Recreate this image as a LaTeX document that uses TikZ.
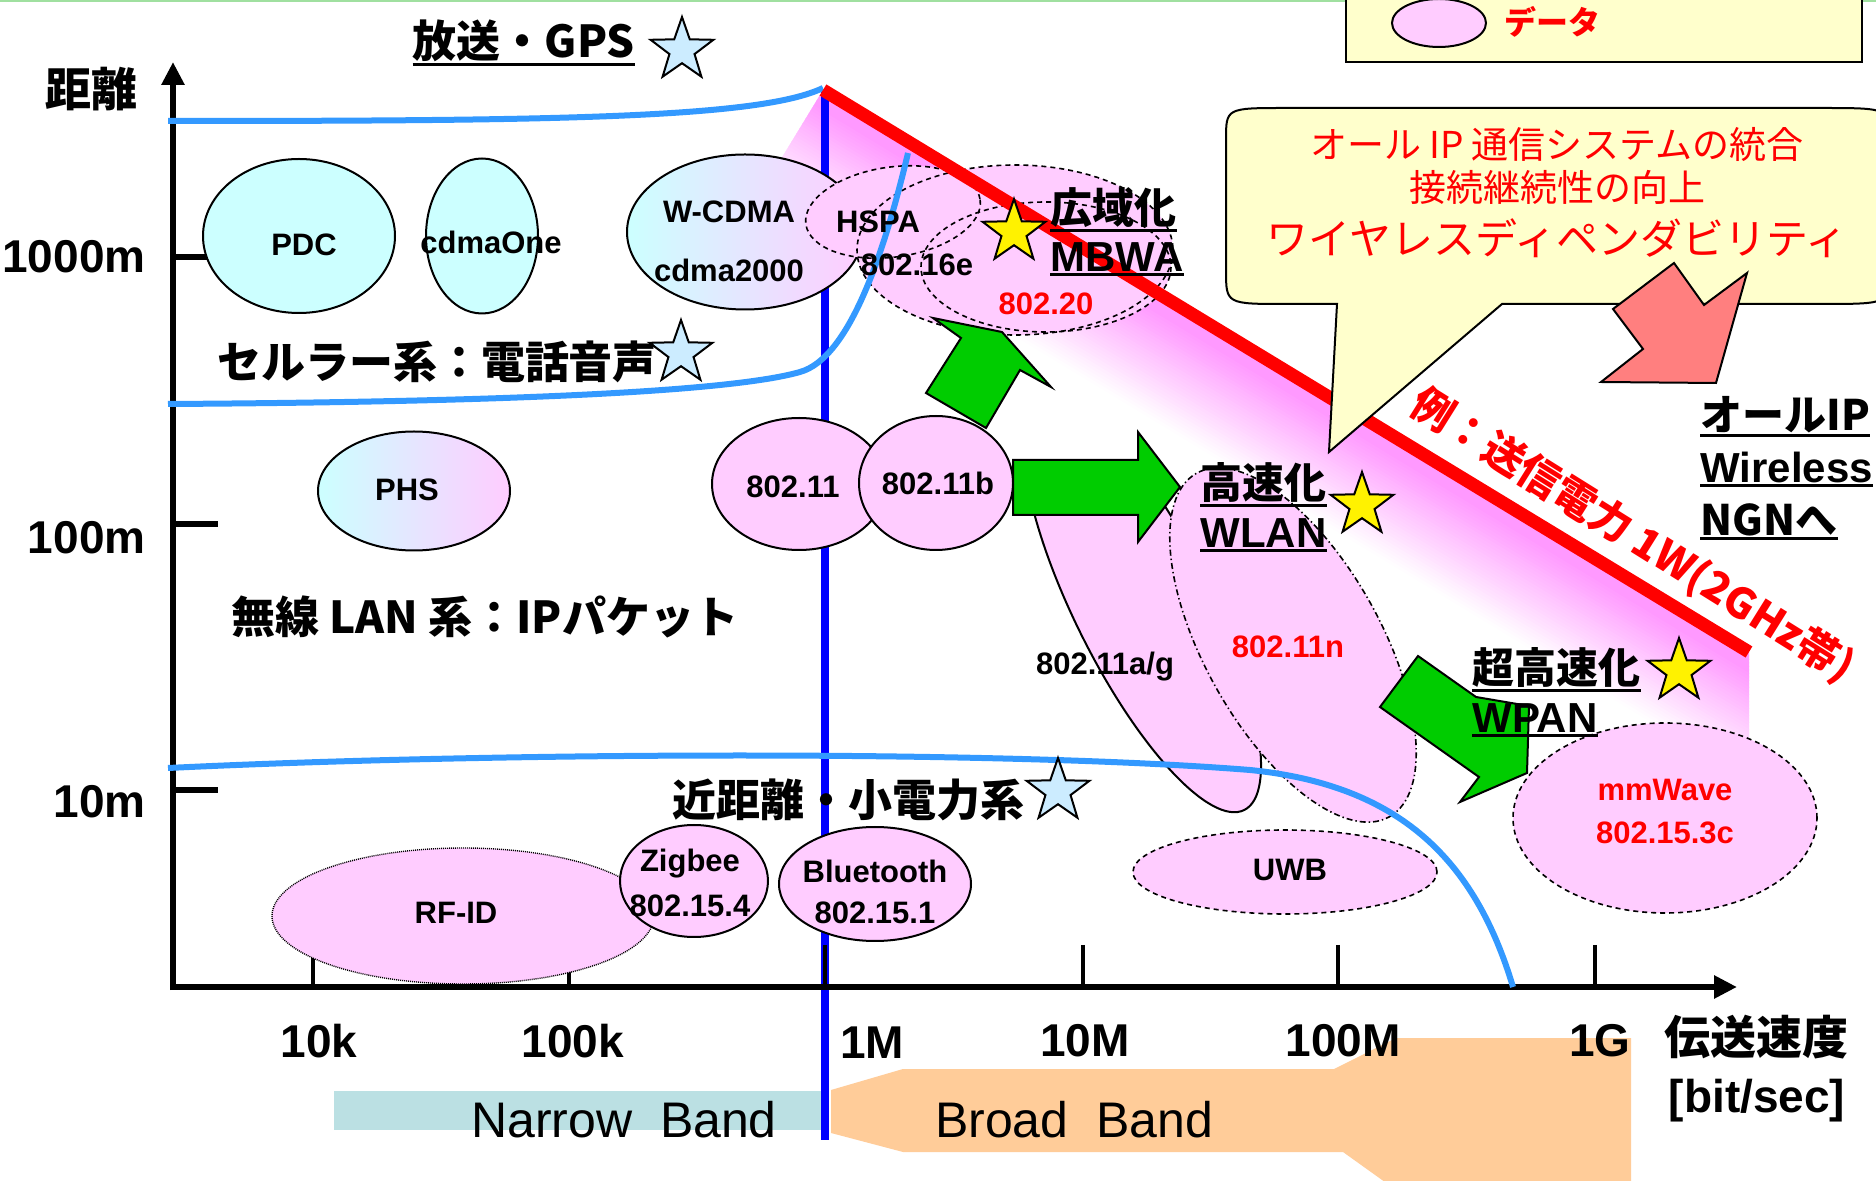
\documentclass[tikz,border=0pt]{standalone}
\usepackage{fontspec}
\setmainfont{Liberation Sans}
\newfontfamily\jp{Noto Sans CJK JP}
\usetikzlibrary{shapes.geometric,arrows.meta}
\definecolor{cyanlt}{HTML}{CCFFFF}
\definecolor{pinklt}{HTML}{FFCCFF}
\definecolor{magpk}{HTML}{FF99FF}
\definecolor{curveblue}{HTML}{3399FF}
\definecolor{linblue}{HTML}{0000FF}
\definecolor{arrgreen}{HTML}{00CC00}
\definecolor{salmon}{HTML}{FF7F7F}
\definecolor{callyel}{HTML}{FFFFCC}
\definecolor{narrowc}{HTML}{BBE0E3}
\definecolor{broadc}{HTML}{FFCC99}
\definecolor{starblue}{HTML}{CCECFF}
\definecolor{topgreen}{HTML}{A0E0A0}
\begin{document}
\begin{tikzpicture}[x=0.5pt,y=-0.5pt,
  ell/.style={ellipse, draw=black, line width=1pt, inner sep=0pt, fill=pinklt},
  dsh/.style={dash pattern=on 2.5pt off 2pt, line width=0.8pt},
  ddot/.style={dash pattern=on 3pt off 1.5pt on 0.7pt off 1.5pt, line width=0.8pt},
  rfdots/.style={dash pattern=on 0.5pt off 0.5pt, line width=0.7pt},
  lab/.style={font=\bfseries\fontsize{15.5}{18}\selectfont, inner sep=0pt},
  axl/.style={font=\bfseries\fontsize{23}{27}\selectfont, inner sep=0pt},
  jpax/.style={font=\jp\bfseries\fontsize{23}{27}\selectfont, inner sep=0pt},
  jpbig/.style={font=\jp\bfseries\fontsize{22}{26}\selectfont, inner xsep=0pt, inner ysep=1pt},
  jpmid/.style={font=\jp\bfseries\fontsize{21}{25}\selectfont, inner xsep=0pt, inner ysep=1pt},
  enmid/.style={font=\bfseries\fontsize{21}{25}\selectfont, inner xsep=0pt, inner ysep=1.5pt},
  uline/.style={line width=1.5pt},
  starshape/.style={star, star points=5, star point ratio=2.5, draw=black, line width=1pt, inner sep=0pt, minimum size=33pt},
  garrow/.style={fill=arrgreen, draw=black, line width=1pt, line join=miter},
  calltxt/.style={font=\jp\fontsize{18.5}{21}\selectfont, text=red, inner sep=0pt},
  bandtxt/.style={font=\fontsize{25}{30}\selectfont, inner sep=0pt},
  bluecurve/.style={curveblue, line width=3pt},
  axisline/.style={line width=3pt, -{Triangle[length=11.5pt,width=11pt]}},
]
\path[use as bounding box] (0,0) rectangle (1876,1181);
\clip (0,0) rectangle (1876,1181);
\fill[white] (0,0) rectangle (1876,1181);
\draw[topgreen, line width=1.5pt] (0,1) -- (1876,1);

% bands
\fill[narrowc] (334,1091) rectangle (827,1130);
\fill[broadc] (831,1090) -- (903,1069) -- (1334,1069) -- (1396,1038) -- (1631,1038) -- (1631,1200) -- (1410,1200) -- (1343,1152) -- (903,1152) -- (831,1133) -- cycle;
\node[bandtxt] (narrowt) at (624,1120) {Narrow~~Band};
\node[bandtxt] (broadt) at (1074,1120) {Broad~~Band};

% magenta fade under the power line
\begin{scope}
\clip (823,90) -- (1749,652) -- (1749,745) -- (1400,800) -- (667,346) -- cycle;
\begin{scope}[shift={(823,90)}, rotate=-31.25]
\foreach \t in {0,3,...,120} {
  \pgfmathtruncatemacro{\p}{max(0,min(100,100-(\t-15)*100/95))}
  \fill[magpk!\p!white] (-60,\t) rectangle (1200,\t+3.6);
}
\end{scope}
\end{scope}

% blue vertical divider
\draw[linblue, line width=4pt] (825,90) -- (825,1140);

% axes
\draw[axisline] (173,990) -- (173,62);
\draw[axisline] (170,987) -- (1737,987);
\foreach \yy in {257,524,790} \draw[line width=3pt] (173,\yy) -- (218,\yy);
\foreach \xx in {313,569,825,1083,1338,1595} \draw[line width=2pt] (\xx,945) -- (\xx,987);

% cellular ellipses
\node[ell, fill=cyanlt, minimum width=96pt, minimum height=77pt] (pdc) at (299,236) {};
\node[ell, fill=cyanlt, minimum width=56pt, minimum height=77.5pt] (cdmaone) at (482,236) {};
\node[ell, left color=cyanlt, right color=pinklt, minimum width=118pt, minimum height=77.5pt] (wcdma) at (745,232) {};
\node[ell, left color=cyanlt, right color=pinklt, minimum width=96pt, minimum height=59.5pt] (phs) at (414,491) {};

% HSPA / 802.16e / 802.20 (dashed)
\fill[pinklt, rotate around={8:(893,212)}] (893,212) ellipse [x radius=88, y radius=45];
\fill[pinklt] (1015,250) ellipse [x radius=158, y radius=85];
\fill[pinklt] (1046,267) ellipse [x radius=125, y radius=65];
\draw[dsh, rotate around={8:(893,212)}] (893,212) ellipse [x radius=88, y radius=45];
\draw[dsh] (1015,250) ellipse [x radius=158, y radius=85];
\draw[dsh] (1046,267) ellipse [x radius=125, y radius=65];

% WLAN
\node[ell, minimum width=87pt, minimum height=66pt] (w11) at (799,484) {};
\node[ell, minimum width=77pt, minimum height=67pt] (w11b) at (936,483) {};
\begin{scope}
\clip (900,462) rectangle (1500,1000);
\node[ell, rotate=-63.6, minimum width=230pt, minimum height=68pt] (w11ag) at (1142,604) {};
\end{scope}
\node[ell, ddot, rotate=-60.7, minimum width=197pt, minimum height=88pt] (w11n) at (1293,645) {};

% short range
\node[ell, dsh, minimum width=152pt, minimum height=42pt] (uwb) at (1285,872) {};
\node[ell, dsh, minimum width=152pt, minimum height=95pt] (mmw) at (1665,818) {};
\node[ell, rfdots, minimum width=191pt, minimum height=68pt] (rfid) at (463,916) {};
\node[ell, minimum width=74pt, minimum height=56pt] (zig) at (694,881) {};
\node[ell, minimum width=96pt, minimum height=57pt] (bt) at (875,884) {};

% blue range curves
\draw[bluecurve] (168,121) .. controls (560,121) and (760,118) .. (823,88);
\draw[bluecurve] (168,404) .. controls (500,402) and (730,392) .. (800,372) .. controls (850,358) and (885,250) .. (908,153);
\draw[bluecurve] (168,768) .. controls (500,752) and (1000,750) .. (1250,770) .. controls (1400,785) and (1475,860) .. (1513,987);

% power line
\draw[red, line width=6.5pt] (823,90) -- (1749,652);

% callout
\draw[line width=1pt, fill=callyel] (1337,304) -- (1286,304) .. controls (1226,304) .. (1226,270) -- (1226,140) .. controls (1226,108) .. (1286,108) -- (1820,108) .. controls (1890,108) .. (1890,140) -- (1890,270) .. controls (1890,304) .. (1820,304) -- (1502,304) -- (1329,452) -- cycle;
\node[calltxt] (c1) at (1557,145) {オール IP 通信システムの統合};
\node[calltxt] (c2) at (1557,187) {接続継続性の向上};
\node[calltxt, font=\jp\fontsize{21}{24}\selectfont] (c3) at (1557,238) {ワイヤレスディペンダビリティ};
\draw[fill=salmon, draw=black, line width=1pt] (1674,263) -- (1704,305) -- (1747,273) -- (1716,383) -- (1601,382) -- (1643,349) -- (1613,309) -- cycle;

% legend
\draw[line width=1pt, fill=callyel] (1346,-10) rectangle (1862,62);
\node[ell, minimum width=47pt, minimum height=24pt] (legell) at (1439,23) {};
\node[font=\jp\bfseries\fontsize{16}{19}\selectfont, text=red, inner sep=0pt] (legtxt) at (1552,22) {データ};

% green arrows
\draw[garrow] (933,318) -- (1002,332) -- (1051,387) -- (1020,370) -- (986,428) -- (926,393) -- (961,338) -- cycle;
\draw[garrow] (1013,460) -- (1138,460) -- (1138,432) -- (1180,487) -- (1138,542) -- (1138,515) -- (1013,515) -- cycle;
\draw[garrow] (1418,656) -- (1476,697) -- (1529,706) -- (1527,773) -- (1460,802) -- (1479,777) -- (1380,707) -- cycle;

% stars
\node[starshape, fill=starblue] (sgps) at (682,50) {};
\node[starshape, fill=starblue] (scell) at (681,353) {};
\node[starshape, fill=starblue] (sshort) at (1058,791) {};
\node[starshape, fill=yellow] (smbwa) at (1014,232) {};
\node[starshape, fill=yellow] (swlan) at (1362,505) {};
\node[starshape, fill=yellow] (swpan) at (1679,671) {};

% ellipse labels
\node[lab] (pdct) at (304,245) {PDC};
\node[lab] (cdmaonet) at (491,242) {cdmaOne};
\node[lab] (wcdmat) at (729,212) {W-CDMA};
\node[lab] (cdmat) at (729,270) {cdma2000};
\node[lab] (phst) at (407,490) {PHS};
\node[lab] (hspat) at (878,222) {HSPA};
\node[lab] (w16et) at (917,265) {802.16e};
\node[lab, text=red] (w20t) at (1046,304) {802.20};
\node[lab] (w11t) at (793,487) {802.11};
\node[lab] (w11bt) at (938,483) {802.11b};
\node[lab] (w11agt) at (1105,667) {802.11a/g};
\node[lab, text=red] (w11nt) at (1288,647) {802.11n};
\node[lab] (uwbt) at (1290,870) {UWB};
\node[lab, text=red] (mmt1) at (1665,790) {mmWave};
\node[lab, text=red] (mmt2) at (1665,833) {802.15.3c};
\node[lab] (rfidt) at (456,913) {RF-ID};
\node[lab] (zigt1) at (690,864) {Zigbee};
\node[lab] (zigt2) at (690,906) {802.15.4};
\node[lab] (btt1) at (875,871) {Bluetooth};
\node[lab] (btt2) at (875,913) {802.15.1};

% axis labels
\node[jpax] (dist) at (92,89) {距離};
\node[axl, anchor=east] (l1000) at (146,257) {1000m};
\node[axl, anchor=east] (l100) at (146,538) {100m};
\node[axl, anchor=east] (l10) at (146,802) {10m};
\node[axl] (t10k) at (319,1041) {10k};
\node[axl] (t100k) at (573,1041) {100k};
\node[axl] (t1M) at (872,1043) {1M};
\node[axl] (t10M) at (1085,1041) {10M};
\node[axl] (t100M) at (1343,1041) {100M};
\node[axl] (t1G) at (1600,1041) {1G};
\node[jpax] (tspeed) at (1756,1037) {伝送速度};
\node[axl] (tbit) at (1757,1101) {[bit/sec]};

% category titles
\node[jpbig] (gps) at (524,41) {放送・GPS};
\draw[uline] (gps.south west) -- (gps.south east);
\node[jpbig] (cell) at (437,362) {セルラー系：電話音声};
\node[jpbig] (wlan) at (485,617) {無線 LAN 系：IPパケット};
\node[jpbig] (short) at (848,800) {近距離・小電力系};

\node[jpmid, anchor=west] (kouiki) at (1050,208) {広域化};
\draw[uline] (kouiki.south west) -- (kouiki.south east);
\node[enmid, anchor=west] (mbwa) at (1050,257) {MBWA};
\draw[uline] (mbwa.south west) -- (mbwa.south east);
\node[jpmid, anchor=west] (kousoku) at (1200,483) {高速化};
\draw[uline] (kousoku.south west) -- (kousoku.south east);
\node[enmid, anchor=west] (wlant) at (1200,533) {WLAN};
\draw[uline] (wlant.south west) -- (wlant.south east);
\node[jpmid, anchor=west] (chou) at (1472,668) {超高速化};
\draw[uline] (chou.south west) -- (chou.south east);
\node[enmid, anchor=west] (wpan) at (1472,718) {WPAN};
\draw[uline] (wpan.south west) -- (wpan.south east);
\node[jpmid, anchor=west] (allip) at (1700,415) {オールIP};
\draw[uline] (allip.south west) -- (allip.south east);
\node[enmid, anchor=west] (wless) at (1700,467) {Wireless};
\draw[uline] (wless.south west) -- (wless.south east);
\node[jpmid, anchor=west] (ngn) at (1700,520) {NGNへ};
\draw[uline] (ngn.south west) -- (ngn.south east);

\node[font=\jp\bfseries\fontsize{21}{25}\selectfont, text=red, inner sep=0pt, rotate=-32] (power) at (1632,536) {例：送信電力 1W(2GHz帯)};
\end{tikzpicture}
\end{document}
